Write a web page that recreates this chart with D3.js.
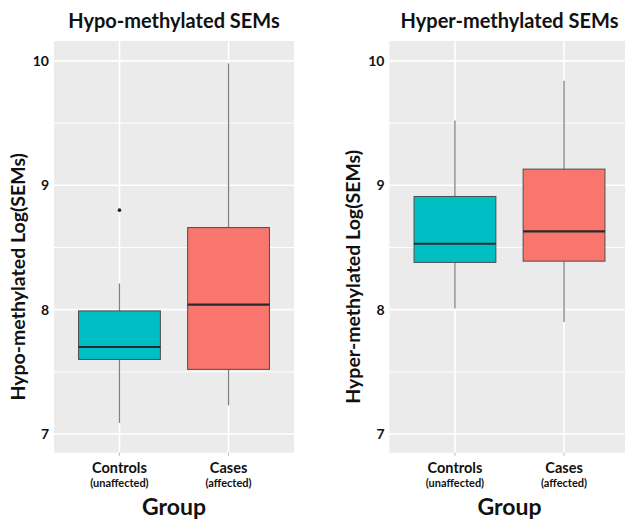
<!DOCTYPE html>
<html><head><meta charset="utf-8">
<script src="https://cdn.jsdelivr.net/npm/d3@7"></script>
<style>body{margin:0;background:#fff}svg{display:block}text{font-family:Lato,"Open Sans",sans-serif;font-weight:bold;fill:#111}</style>
</head><body>
<svg id="c" width="625" height="520"></svg>
<script>
const categories = ["Controls", "Cases"];
const subLabels = ["(unaffected)", "(affected)"];
const yTicks = [7, 8, 9, 10];
const yMinor = [7.5, 8.5, 9.5];

const hypoLow = [7.09, 7.23];
const hypoQ1 = [7.60, 7.52];
const hypoMedian = [7.70, 8.04];
const hypoQ3 = [7.99, 8.66];
const hypoHigh = [8.21, 9.98];
const hypoOutliers = [[8.80], []];

const hyperLow = [8.01, 7.90];
const hyperQ1 = [8.38, 8.39];
const hyperMedian = [8.53, 8.63];
const hyperQ3 = [8.91, 9.13];
const hyperHigh = [9.52, 9.84];
const hyperOutliers = [[], []];

const fills = ["#00BFC4", "#F8766D"];

const panels = [
  {title: "Hypo-methylated SEMs", ylab: "Hypo-methylated Log(SEMs)", x0: 54, ylabX: 18,
   low: hypoLow, q1: hypoQ1, med: hypoMedian, q3: hypoQ3, high: hypoHigh, out: hypoOutliers},
  {title: "Hyper-methylated SEMs", ylab: "Hyper-methylated Log(SEMs)", x0: 389.5, ylabX: 352.5,
   low: hyperLow, q1: hyperQ1, med: hyperMedian, q3: hyperQ3, high: hyperHigh, out: hyperOutliers}
];

const svg = d3.select("#c");
const plotTop = 41, plotBottom = 452.7, pw = 240;
const y = d3.scaleLinear().domain([6.85, 10.16]).range([plotBottom, plotTop]);

panels.forEach(p => {
  const g = svg.append("g");
  const x = d3.scalePoint().domain(categories).range([p.x0, p.x0 + pw]).padding(0.6);
  const bw = x.step() * 0.75;
  g.append("rect").attr("x", p.x0).attr("y", plotTop).attr("width", pw).attr("height", plotBottom - plotTop).attr("fill", "#EBEBEB");
  g.selectAll(".minor").data(yMinor).join("line")
    .attr("x1", p.x0).attr("x2", p.x0 + pw).attr("y1", d => y(d)).attr("y2", d => y(d))
    .attr("stroke", "#fff").attr("stroke-width", 1);
  g.selectAll(".major").data(yTicks).join("line")
    .attr("x1", p.x0).attr("x2", p.x0 + pw).attr("y1", d => y(d)).attr("y2", d => y(d))
    .attr("stroke", "#fff").attr("stroke-width", 1.6);
  g.selectAll(".vg").data(categories).join("line")
    .attr("x1", d => x(d)).attr("x2", d => x(d)).attr("y1", plotTop).attr("y2", plotBottom)
    .attr("stroke", "#fff").attr("stroke-width", 1.6);
  g.selectAll(".xt").data(categories).join("line")
    .attr("x1", d => x(d)).attr("x2", d => x(d)).attr("y1", plotBottom).attr("y2", plotBottom + 3)
    .attr("stroke", "#bbb").attr("stroke-width", 1);

  categories.forEach((c, i) => {
    const cx = x(c);
    g.append("line").attr("x1", cx).attr("x2", cx).attr("y1", y(p.high[i])).attr("y2", y(p.q3[i]))
      .attr("stroke", "#808080").attr("stroke-width", 1.3);
    g.append("line").attr("x1", cx).attr("x2", cx).attr("y1", y(p.q1[i])).attr("y2", y(p.low[i]))
      .attr("stroke", "#808080").attr("stroke-width", 1.3);
    g.append("rect").attr("x", cx - bw / 2).attr("width", bw)
      .attr("y", y(p.q3[i])).attr("height", y(p.q1[i]) - y(p.q3[i]))
      .attr("fill", fills[i]).attr("stroke", "#4d4d4d").attr("stroke-width", 1);
    g.append("line").attr("x1", cx - bw / 2).attr("x2", cx + bw / 2)
      .attr("y1", y(p.med[i])).attr("y2", y(p.med[i]))
      .attr("stroke", "#2a2a2a").attr("stroke-width", 2.2);
    g.selectAll(null).data(p.out[i]).join("circle")
      .attr("cx", cx).attr("cy", d => y(d)).attr("r", 1.8).attr("fill", "#222");
  });

  g.selectAll(".yl").data(yTicks).join("text")
    .attr("x", p.x0 - 5).attr("y", d => y(d)).attr("dy", "0.36em")
    .attr("text-anchor", "end").attr("font-size", 14).text(d => d);
  categories.forEach((c, i) => {
    g.append("text").attr("x", x(c)).attr("y", plotBottom + 20).attr("text-anchor", "middle")
      .attr("font-size", 14.5).text(c);
    g.append("text").attr("x", x(c)).attr("y", plotBottom + 34).attr("text-anchor", "middle")
      .attr("font-size", 11).attr("fill", "#222").text(subLabels[i]);
  });
  g.append("text").attr("x", p.x0 + pw / 2).attr("y", 515).attr("text-anchor", "middle")
    .attr("font-size", 23).text("Group");
  g.append("text").attr("x", p.x0 + pw / 2).attr("y", 28).attr("text-anchor", "middle")
    .attr("font-size", 20).text(p.title);
  g.append("text").attr("transform", `translate(${p.ylabX},${(plotTop + plotBottom) / 2 + 30}) rotate(-90)`)
    .attr("dy", "0.36em").attr("text-anchor", "middle").attr("font-size", 19.5).text(p.ylab);
});
</script>
</body></html>
